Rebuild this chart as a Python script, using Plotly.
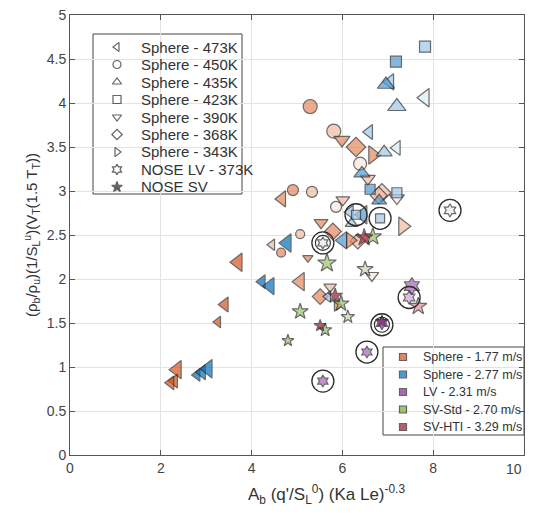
import plotly.graph_objects as go

# ---- data (x, y, shade level 0=dark .. 3=very light) ----
# Sphere 1.77 m/s (orange)
o473_x = [3.70, 3.41, 3.26, 2.36, 2.30, 2.22, 4.67, 4.45, 5.07]
o473_y = [2.19, 1.71, 1.51, 0.97, 0.84, 0.82, 2.91, 2.39, 1.97]
o473_s = [0, 0, 0, 0, 0, 0, 1, 2, 1]
o473_z = [16, 13, 10, 16, 12, 12, 14, 10, 16]

o450_x = [5.29, 5.81, 6.39, 4.91, 5.33, 5.86, 5.07, 4.65]
o450_y = [3.96, 3.68, 3.31, 3.01, 2.99, 2.82, 2.51, 2.30]
o450_s = [1, 2, 3, 1, 2, 3, 2, 1]
o450_z = [14, 14, 13, 11, 11, 11, 9, 9]

o390_x = [5.99, 6.56, 7.20, 6.01, 5.53, 5.24, 5.73, 6.65]
o390_y = [3.58, 3.14, 2.92, 2.90, 2.64, 2.24, 1.91, 2.04]
o390_s = [1, 2, 3, 2, 1, 1, 2, 3]
o390_z = [14, 13, 13, 12, 12, 9, 11, 12]

o368_x = [6.30, 6.87, 6.80, 5.79, 6.34, 5.51]
o368_y = [3.50, 2.98, 2.95, 2.54, 2.43, 1.80]
o368_s = [1, 2, 2, 1, 2, 1]
o368_z = [15, 14, 13, 13, 12, 12]

o343_x = [6.67, 7.33, 6.17, 5.88]
o343_y = [3.41, 2.60, 2.44, 1.70]
o343_s = [1, 2, 1, 1]
o343_z = [16, 16, 14, 10]

# Sphere 2.77 m/s (blue)
b473_x = [7.05, 7.82, 6.59, 7.20, 6.45, 6.17, 6.01, 4.78, 4.23, 4.41, 2.80, 2.91, 3.04, 5.68]
b473_y = [4.24, 4.06, 3.67, 3.49, 2.73, 2.76, 2.44, 2.41, 1.97, 1.92, 0.91, 0.94, 0.98, 1.80]
b473_s = [2, 3, 2, 3, 1, 2, 1, 0, 0, 0, 0, 0, 0, 2]
b473_z = [14, 16, 13, 13, 16, 12, 15, 16, 12, 15, 11, 13, 16, 10]

b435_x = [6.96, 7.20, 6.92, 6.43, 6.81, 6.20]
b435_y = [4.21, 3.96, 3.44, 3.20, 2.89, 2.63]
b435_s = [1, 2, 2, 1, 1, 2]
b435_z = [15, 16, 14, 14, 13, 11]

b423_x = [7.82, 7.18, 6.61, 7.20, 6.30, 6.83]
b423_y = [4.64, 4.47, 3.02, 2.98, 2.73, 2.69]
b423_s = [2, 1, 1, 2, 2, 2]
b423_z = [11, 11, 10, 10, 9, 9]

# NOSE LV - 373K (purple hexagrams)
lv_x = [8.37, 7.53, 7.47, 6.87, 6.54, 5.57, 5.57]
lv_y = [2.78, 1.92, 1.79, 1.50, 1.17, 0.84, 2.41]
lv_s = [3, 1, 2, 0, 1, 1, 3]
lv_z = [10, 13, 10, 10, 9, 9, 9]

# NOSE SV (stars): SV-Std green, SV-HTI red
svs_x = [5.66, 6.50, 6.67, 5.97, 5.07, 6.12, 5.62, 4.80]
svs_y = [2.18, 2.11, 2.48, 1.72, 1.63, 1.57, 1.42, 1.30]
svs_s = [1, 2, 1, 1, 1, 2, 1, 1]
svs_z = [14, 12, 13, 12, 12, 10, 10, 9]

svh_x = [6.48, 5.84, 5.51, 7.67, 6.87]
svh_y = [2.47, 1.81, 1.47, 1.69, 1.52]
svh_s = [0, 0, 0, 2, 0]
svh_z = [13, 11, 9, 13, 9]

# open rings drawn around some points
ring_x = [6.30, 6.83, 5.57, 8.37, 7.47, 6.87, 6.54, 5.57]
ring_y = [2.73, 2.69, 2.41, 2.78, 1.79, 1.48, 1.17, 0.84]
ring2_x = [5.57, 6.87]
ring2_y = [2.41, 1.48]

x_ticks = [0, 2, 4, 6, 8, 10]
shape_names = ["Sphere - 473K", "Sphere - 450K", "Sphere - 435K", "Sphere - 423K",
               "Sphere - 390K", "Sphere - 368K", "Sphere - 343K",
               "NOSE LV - 373K", "NOSE SV"]
color_names = ["Sphere - 1.77 m/s", "Sphere - 2.77 m/s", "LV - 2.31 m/s",
               "SV-Std - 2.70 m/s", "SV-HTI - 3.29 m/s"]

# shade palettes (dark -> very light)
orange = ["#D95319", "#E6875E", "#F2BBA3", "#FBE6DC"]
blue = ["#0072BD", "#4D9BD3", "#9ECAEA", "#DCEDF9"]
purple = ["#7E2F8E", "#A766B8", "#CFA5DB", "#F1E4F5"]
green = ["#77AC30", "#9CC468", "#C4DDA3", "#EAF3DE"]
red = ["#A2142F", "#C2495F", "#E08F9E", "#F5D8DE"]

fig = go.Figure()


def add_pts(x, y, shade, size, symbol, pal):
    fig.add_trace(go.Scatter(
        x=x, y=y, mode="markers", showlegend=False, hoverinfo="x+y",
        marker=dict(symbol=symbol, size=size, color=[pal[s] for s in shade],
                    line=dict(color="#2b2b2b", width=1.2))))


add_pts(o473_x, o473_y, o473_s, o473_z, "triangle-left", orange)
add_pts(o450_x, o450_y, o450_s, o450_z, "circle", orange)
add_pts(o390_x, o390_y, o390_s, o390_z, "triangle-down", orange)
add_pts(o368_x, o368_y, o368_s, o368_z, "diamond", orange)
add_pts(o343_x, o343_y, o343_s, o343_z, "triangle-right", orange)
add_pts(b473_x, b473_y, b473_s, b473_z, "triangle-left", blue)
add_pts(b435_x, b435_y, b435_s, b435_z, "triangle-up", blue)
add_pts(b423_x, b423_y, b423_s, b423_z, "square", blue)
add_pts(svs_x, svs_y, svs_s, svs_z, "star", green)
add_pts(svh_x, svh_y, svh_s, svh_z, "star", red)
add_pts(lv_x, lv_y, lv_s, lv_z, "hexagram", purple)

fig.add_trace(go.Scatter(x=ring_x, y=ring_y, mode="markers", showlegend=False,
                         hoverinfo="skip",
                         marker=dict(symbol="circle-open", size=22, color="#2b2b2b",
                                     line=dict(color="#2b2b2b", width=1.3))))
fig.add_trace(go.Scatter(x=ring2_x, y=ring2_y, mode="markers", showlegend=False,
                         hoverinfo="skip",
                         marker=dict(symbol="circle-open", size=15, color="#2b2b2b",
                                     line=dict(color="#2b2b2b", width=1.1))))

# ---- MATLAB-style boxed legends, laid out in plot-area pixels ----
PW, PH = 454, 440  # plot area size in px


def px(x):
    return x / PW


def py(y):
    return 1 - y / PH


def boxed_legend(left, top, right, bottom, row0, row_h, key_dx, text_dx,
                 labels, symbols, fills, fsize):
    fig.add_shape(type="rect", xref="paper", yref="paper",
                  x0=px(left), x1=px(right), y0=py(bottom), y1=py(top),
                  line=dict(color="#444", width=1), fillcolor="white", layer="between")
    ys = [py(row0 + i * row_h) for i in range(len(labels))]
    fig.add_trace(go.Scatter(
        x=[px(left + key_dx)] * len(labels), y=ys, xaxis="x2", yaxis="y2",
        mode="markers", showlegend=False, hoverinfo="skip", cliponaxis=False,
        marker=dict(symbol=symbols, size=[7 if s == "square" and f != "white" else 8
                                          for s, f in zip(symbols, fills)],
                    color=fills, line=dict(color="#222", width=1.2))))
    for lab, yv in zip(labels, ys):
        fig.add_annotation(x=px(left + text_dx), y=yv, xref="paper", yref="paper",
                           text=lab, showarrow=False, xanchor="left", yanchor="middle",
                           font=dict(size=fsize, color="#333"))


symbols = ["triangle-left", "circle", "triangle-up", "square", "triangle-down",
           "diamond", "triangle-right", "hexagram", "star"]
boxed_legend(23, 19, 172, 179, 32, 17.5, 24, 46, shape_names, symbols,
             ["white"] * 8 + ["#222"], 15)
boxed_legend(313, 332, 454, 420, 342, 17.5, 20, 38, color_names, ["square"] * 5,
             [orange[0], blue[0], purple[0], green[0], red[0]], 12.5)

# last x tick label sits at the page edge: draw it right-aligned so it stays visible
fig.add_annotation(x=1, y=0, xref="paper", yref="paper", text=str(x_ticks[-1]),
                   showarrow=False, xanchor="right", yanchor="top", yshift=-4,
                   font=dict(size=14, color="#444"))
# x axis title (the reference centres it a bit right of the axis middle)
fig.add_annotation(x=0.565, y=-40 / PH, xref="paper", yref="paper",
                   text="A<sub>b</sub> (q'/S<sub>L</sub><sup>0</sup>) (Ka Le)<sup>-0.3</sup>",
                   showarrow=False, xanchor="center", yanchor="middle",
                   font=dict(size=17, color="#333"))

axis_common = dict(showline=True, linecolor="#555", linewidth=1, mirror="ticks",
                   ticks="inside", ticklen=5, tickcolor="#555",
                   showgrid=True, gridcolor="#e3e3e3", zeroline=False,
                   automargin=False, ticklabeloverflow="allow",
                   tickfont=dict(size=14, color="#444"))

fig.update_layout(
    width=517, height=510,
    margin=dict(l=62, r=1, t=7, b=63),
    plot_bgcolor="white", paper_bgcolor="white",
    showlegend=False,
    font=dict(family="Liberation Sans, Arial, sans-serif", color="#333"),
    xaxis=dict(range=[0, 10], tickvals=x_ticks,
               ticktext=[str(t) for t in x_ticks[:-1]] + [""], **axis_common),
    yaxis=dict(range=[0, 5], dtick=0.5, **axis_common,
               title=dict(text="(\u03c1<sub>b</sub>/\u03c1<sub>u</sub>)(1/S<sub>L</sub><sup>u</sup>)(V<sub>T</sub>(1.5 T<sub>T</sub>))",
                          font=dict(size=15, color="#333"), standoff=5)),
    xaxis2=dict(range=[0, 1], overlaying="x", visible=False, fixedrange=True),
    yaxis2=dict(range=[0, 1], overlaying="y", visible=False, fixedrange=True),
)

fig.write_html("out.html")
